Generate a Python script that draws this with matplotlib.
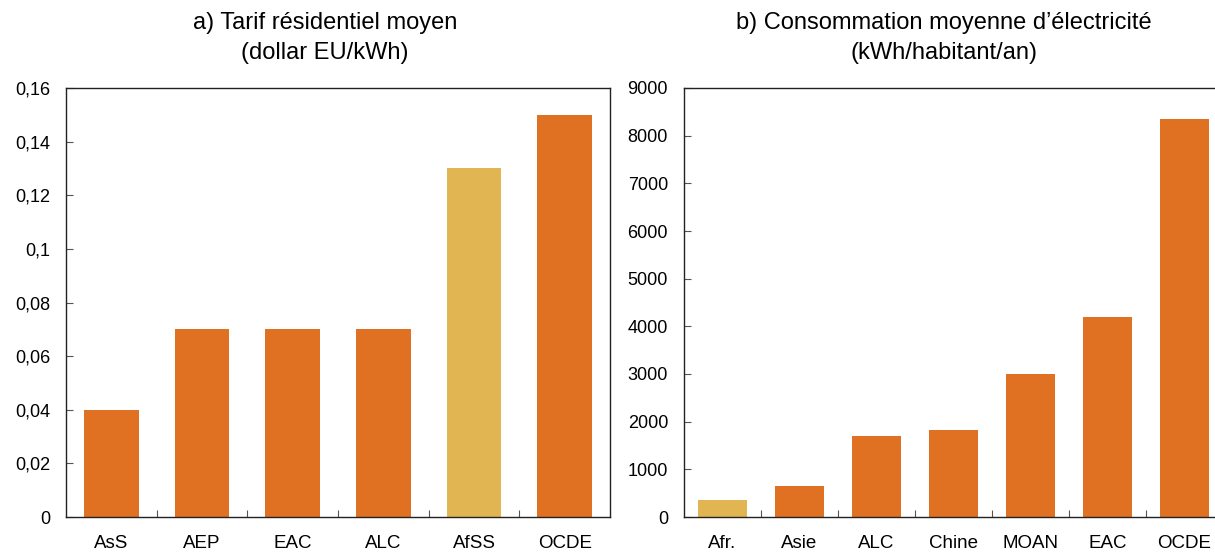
# electricity tariffs and consumption, two bar panels
import matplotlib.pyplot as plt
from matplotlib.ticker import FixedLocator, FuncFormatter

plt.rcParams['font.family'] = ['Liberation Sans', 'DejaVu Sans']

# data
tarif_regions = ['AsS', 'AEP', 'EAC', 'ALC', 'AfSS', 'OCDE']
tarif_values = [0.04, 0.07, 0.07, 0.07, 0.13, 0.15]
tarif_highlight = [False, False, False, False, True, False]

conso_regions = ['Afr.', 'Asie', 'ALC', 'Chine', 'MOAN', 'EAC', 'OCDE']
conso_values = [350, 650, 1700, 1820, 3000, 4200, 8350]
conso_highlight = [True, False, False, False, False, False, False]

orange = '#E07022'
yellow = '#E1B551'


def comma(v, pos):
    return '{:g}'.format(round(v, 4)).replace('.', ',')


def draw_panel(ax, cats, vals, hl, width):
    x = range(len(cats))
    cols = [yellow if h else orange for h in hl]
    ax.bar(x, vals, width=width, color=cols, zorder=2)
    ax.set_xlim(-0.5, len(cats) - 0.5)
    ax.set_xticks(list(x))
    ax.set_xticklabels(cats)
    ax.xaxis.set_minor_locator(FixedLocator([i + 0.5 for i in range(len(cats) - 1)]))
    ax.tick_params(axis='x', which='major', length=0, pad=13, labelsize=13.5)
    ax.tick_params(axis='x', which='minor', direction='in', length=5, width=0.8, color='#555555')
    ax.tick_params(axis='y', direction='in', length=5, width=0.8, pad=11.5, labelsize=13, color='#555555')
    for s in ax.spines.values():
        s.set_linewidth(1.0)
        s.set_color('#222222')


fig = plt.figure(figsize=(12.15, 5.54), dpi=100)

# left panel
ax1 = fig.add_axes([66 / 1215, 1 - 517 / 554, 544 / 1215, 429 / 554])
draw_panel(ax1, tarif_regions, tarif_values, tarif_highlight, 0.6)
ax1.set_ylim(0, 0.16)
ax1.set_yticks([0, 0.02, 0.04, 0.06, 0.08, 0.1, 0.12, 0.14, 0.16])
ax1.yaxis.set_major_formatter(FuncFormatter(comma))

# right panel (extends a little past the figure edge)
ax2 = fig.add_axes([684 / 1215, 1 - 517 / 554, 539 / 1215, 429 / 554])
draw_panel(ax2, conso_regions, conso_values, conso_highlight, 0.63)
ax2.set_ylim(0, 9000)
ax2.set_yticks(range(0, 9001, 1000))

# titles
fig.text(325 / 1215, 1 - 29 / 554, 'a) Tarif résidentiel moyen',
         ha='center', va='baseline', fontsize=17)
fig.text(325 / 1215, 1 - 59 / 554, '(dollar EU/kWh)',
         ha='center', va='baseline', fontsize=17)
fig.text(944 / 1215, 1 - 29 / 554, 'b) Consommation moyenne d\u2019électricité',
         ha='center', va='baseline', fontsize=17)
fig.text(944 / 1215, 1 - 59 / 554, '(kWh/habitant/an)',
         ha='center', va='baseline', fontsize=17)

fig.savefig('out.png', dpi=100)
